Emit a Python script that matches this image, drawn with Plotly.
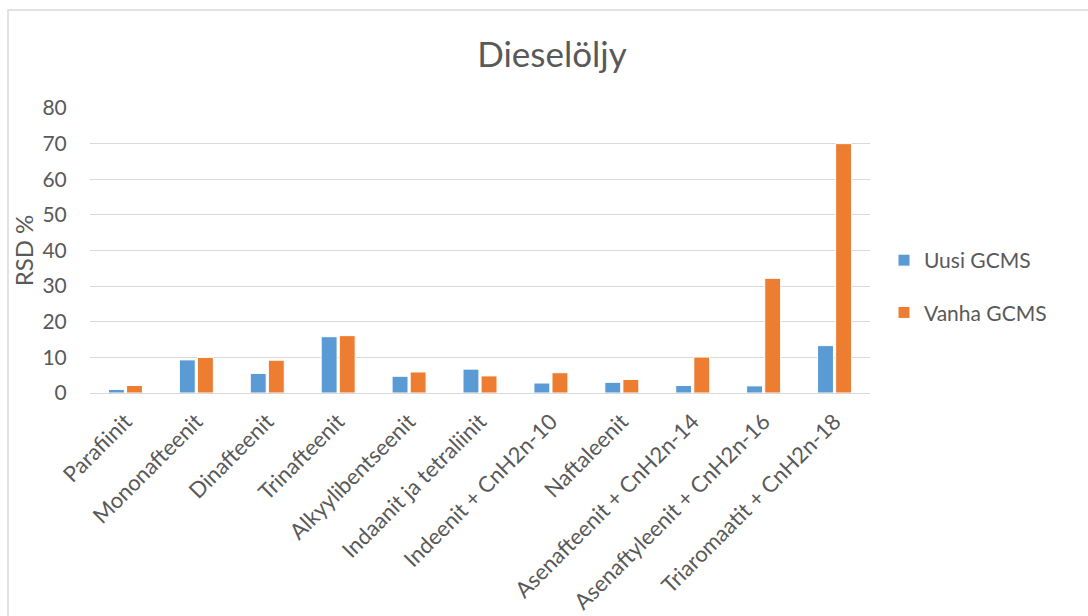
import plotly.graph_objects as go

categories = ["Parafiinit", "Mononafteenit", "Dinafteenit", "Trinafteenit",
              "Alkyylibentseenit", "Indaanit ja tetraliinit", "Indeenit + CnH2n-10",
              "Naftaleenit", "Asenafteenit + CnH2n-14", "Asenaftyleenit + CnH2n-16",
              "Triaromaatit + CnH2n-18"]
uusi = [1.0, 9.3, 5.5, 15.8, 4.7, 6.7, 2.8, 3.0, 2.1, 2.0, 13.3]
vanha = [2.1, 10.0, 9.2, 16.1, 5.9, 4.8, 5.7, 3.8, 10.1, 32.2, 70.0]
series_names = ["Uusi GCMS", "Vanha GCMS"]
y_ticks = [0, 10, 20, 30, 40, 50, 60, 70, 80]

W, H = 1088, 616
L, R, T, B = 90, 218, 108, 223
pw, ph = W - L - R, H - T - B

font_family = "Lato, 'Open Sans', sans-serif"
grey = "#595959"

fig = go.Figure()
fig.add_trace(go.Bar(x=categories, y=uusi, name=series_names[0], legendgroup="a",
                     marker=dict(color="#5B9BD5", line=dict(color="white", width=1))))
fig.add_trace(go.Bar(x=categories, y=vanha, name=series_names[1], legendgroup="b",
                     marker=dict(color="#ED7D31", line=dict(color="white", width=1))))

def px_x(p):
    return (p - L) / pw

def px_y(p):
    return (H - B - p) / ph

fig.update_layout(
    width=W, height=H,
    margin=dict(l=L, r=R, t=T, b=B, autoexpand=False),
    paper_bgcolor="white", plot_bgcolor="white",
    font=dict(family=font_family, color=grey, size=20),
    title=dict(text="Dieselöljy", x=552 / W, xref="container", xanchor="center",
               y=1 - 55 / H, yref="container", yanchor="middle",
               font=dict(size=35, color=grey, family=font_family)),
    barmode="group", bargap=0.49, bargroupgap=0.12,
    showlegend=True,
    legend=dict(x=px_x(884), y=px_y(240), xanchor="left", yanchor="top",
                font=dict(size=21, color=grey), tracegroupgap=22,
                bgcolor="rgba(0,0,0,0)", itemwidth=30),
    xaxis=dict(tickangle=-45, tickfont=dict(size=22, color=grey), showgrid=False,
               showline=True, linecolor="#D9D9D9", linewidth=1,
               ticks="outside", ticklen=6, tickcolor="rgba(0,0,0,0)",
               automargin=False),
    yaxis=dict(range=[0, 80], tickvals=y_ticks, showgrid=True, gridcolor="#D9D9D9",
               gridwidth=1, zeroline=False, showline=False, automargin=False,
               ticks="outside", ticklen=18, tickcolor="rgba(0,0,0,0)",
               tickfont=dict(size=21, color=grey),
               title=dict(text="RSD %", font=dict(size=24, color=grey), standoff=2)),
    shapes=[dict(type="rect", xref="paper", yref="paper",
                 x0=px_x(8), x1=px_x(W + 10), y0=px_y(H + 10), y1=px_y(10),
                 line=dict(color="#D9D9D9", width=1.5), fillcolor="rgba(0,0,0,0)",
                 layer="below")],
)

fig.write_html("out.html")
